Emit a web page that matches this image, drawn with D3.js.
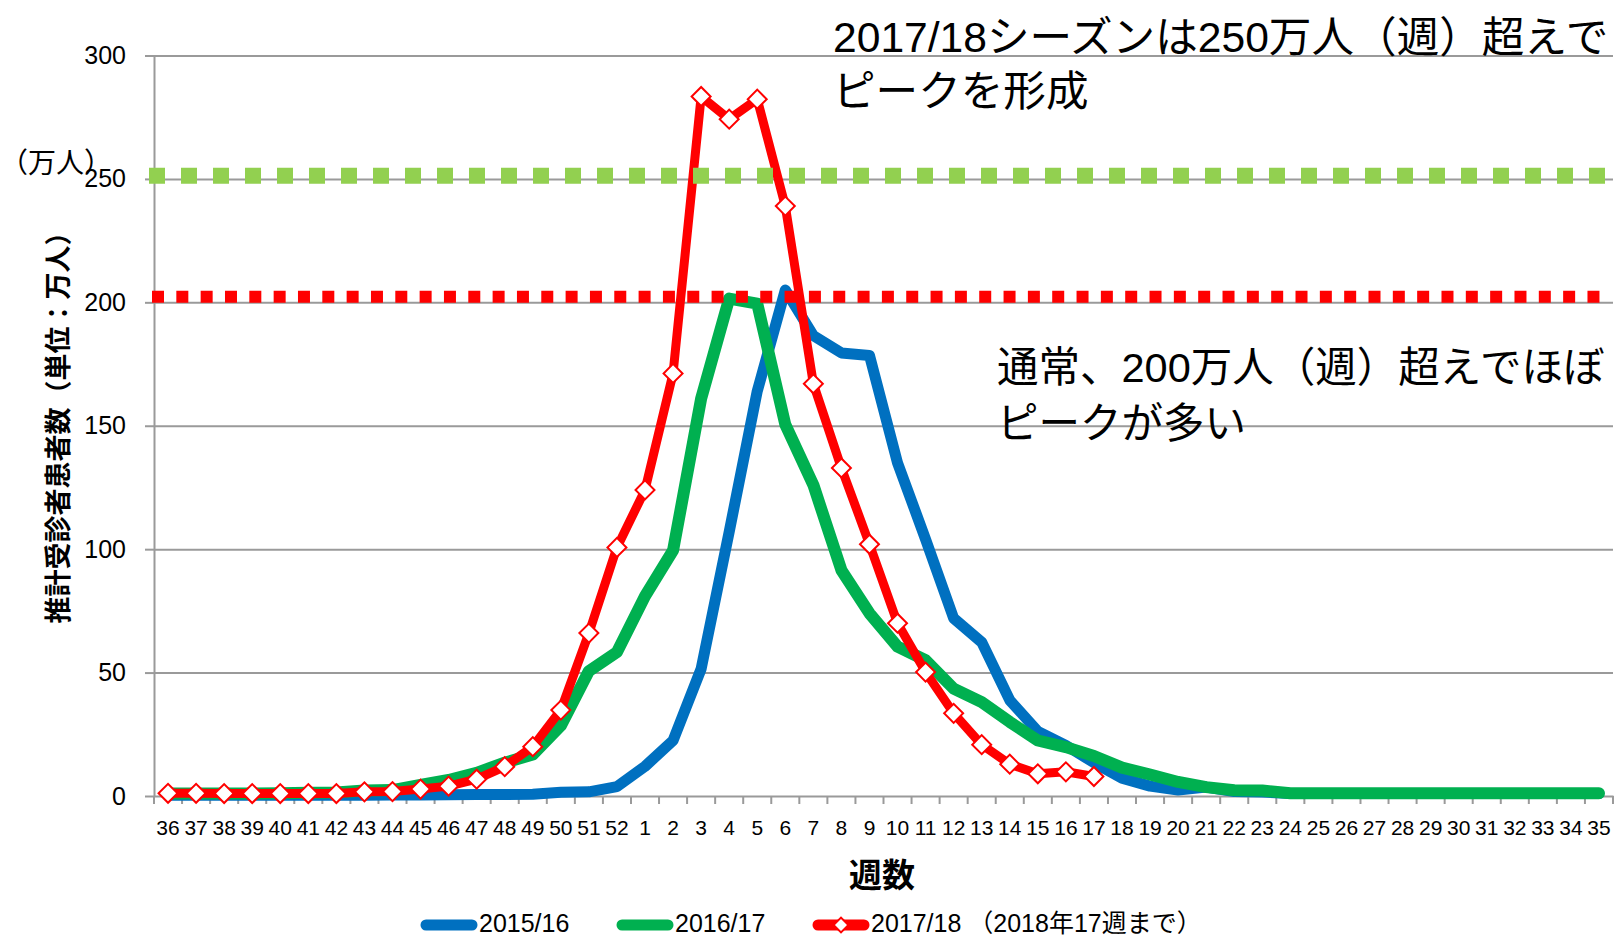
<!DOCTYPE html>
<html>
<head>
<meta charset="utf-8">
<script src="https://cdn.jsdelivr.net/npm/d3@7"></script>
<style>
  html, body { margin: 0; padding: 0; background: #fff; }
  svg { display: block; }
</style>
</head>
<body>
<svg id="chart" width="1623" height="938"></svg>
<script>
// Week numbers of the influenza season (week 36 through week 35 of the next year)
const weeks = ["36","37","38","39","40","41","42","43","44","45","46","47","48","49","50","51","52",
  "1","2","3","4","5","6","7","8","9","10","11","12","13","14","15","16","17","18","19","20",
  "21","22","23","24","25","26","27","28","29","30","31","32","33","34","35"];

// Estimated weekly patients (unit: 10,000 people)
const season1516 = [0.3,0.3,0.3,0.3,0.3,0.3,0.3,0.3,0.4,0.4,0.5,0.6,0.6,0.7,1.5,1.7,3.8,
  12,22.5,51.5,107,164,205,186.5,179.5,178.5,135,104,72,62.3,38.8,26.2,20.5,13.5,7.2,4,2.4,
  3.6,1.8,1.6,1.0,1.0,1.0,1.0,1.0,1.0,1.0,1.0,1.0,1.0,1.0,1.0];
const season1617 = [1.0,1.0,1.0,1.0,1.1,1.3,1.4,2.2,2.4,4.5,6.5,9.4,13.5,16.8,28.5,50.6,58.3,
  81,99.5,161,201.5,199.5,150.5,126,91.5,74,60.5,55,43.5,38,30,22.5,19.8,16.2,11.5,8.7,5.7,
  3.6,2.3,2.2,1.1,1.1,1.1,1.1,1.1,1.1,1.1,1.1,1.1,1.1,1.1,1.1];
// 2017/18 season, reported through week 17 of 2018
const season1718 = [1.1,1.1,1.0,1.0,1.0,1.0,1.0,1.7,1.8,2.8,4.0,6.8,11.9,20,34.8,66,100.7,
  124,171.2,283.4,274.2,282.3,239,167,132.9,102,70,50.2,33.5,20.8,12.9,9.0,9.8,7.9];

const seriesNames = ["2015/16", "2016/17", "2017/18 （2018年17週まで）"];
const yTicks = [0, 50, 100, 150, 200, 250, 300];
// Reference levels: peak season threshold and usual-peak threshold
const referenceLevels = [251.3, 202.3];

const LATIN = "'Liberation Sans', 'Noto Sans CJK JP', sans-serif";
const JP = "'Noto Sans CJK JP', 'Liberation Sans', sans-serif";

const svg = d3.select("#chart");
const plotLeft = 154, plotRight = 1613, plotBottom = 796, plotTop = 55.5;

const x = d3.scaleBand().domain(weeks).range([plotLeft, plotRight]).padding(0);
const y = d3.scaleLinear().domain([0, 300]).range([plotBottom, plotTop]);
const cx = w => x(w) + x.bandwidth() / 2;

const axisColor = "#9a9a9a";

// Horizontal gridlines
const grid = svg.append("g").attr("transform", `translate(${plotLeft},0)`)
  .call(d3.axisLeft(y).tickValues(yTicks.filter(v => v > 0)).tickSize(-(plotRight - plotLeft)).tickFormat(""));
grid.select(".domain").remove();
grid.selectAll("line").attr("stroke", axisColor).attr("stroke-width", 2);

// Y axis with labels
const yAxis = svg.append("g").attr("transform", `translate(${plotLeft},0)`)
  .call(d3.axisLeft(y).tickValues(yTicks).tickSize(9).tickSizeOuter(0).tickPadding(19));
yAxis.select(".domain").attr("stroke", axisColor).attr("stroke-width", 2);
yAxis.selectAll(".tick line").attr("stroke", axisColor).attr("stroke-width", 2);
yAxis.selectAll("text").attr("font-family", LATIN).attr("font-size", 25).attr("fill", "#000");

// X axis with week labels centred in each category
const xAxis = svg.append("g").attr("transform", `translate(0,${plotBottom})`)
  .call(d3.axisBottom(x).tickSize(0).tickSizeOuter(0).tickPadding(24));
xAxis.select(".domain").attr("stroke", axisColor).attr("stroke-width", 2);
xAxis.selectAll("text").attr("font-family", LATIN).attr("font-size", 21).attr("fill", "#000");

// Tick marks on category boundaries
const boundaries = d3.range(weeks.length + 1).map(i => plotLeft + i * x.step());
svg.append("g").selectAll("line").data(boundaries).join("line")
  .attr("x1", d => d).attr("x2", d => d)
  .attr("y1", plotBottom).attr("y2", plotBottom + 8)
  .attr("stroke", axisColor).attr("stroke-width", 2);

// Season lines
const seriesStyles = [
  { color: "#0070C0", width: 11, marker: false },
  { color: "#00B050", width: 12, marker: false },
  { color: "#FF0000", width: 9, marker: true }
];
const seriesValues = [season1516, season1617, season1718];

const line = d3.line()
  .x(d => cx(d.week))
  .y(d => y(d.value));

const diamond = d3.symbol().type(d3.symbolSquare).size(180);

seriesValues.forEach((vals, i) => {
  const st = seriesStyles[i];
  const pts = vals.map((v, j) => ({ week: weeks[j], value: v }));
  svg.append("path").datum(pts)
    .attr("d", line)
    .attr("fill", "none")
    .attr("stroke", st.color)
    .attr("stroke-width", st.width)
    .attr("stroke-linejoin", "round")
    .attr("stroke-linecap", "round");
  if (st.marker) {
    svg.append("g").selectAll("path").data(pts).join("path")
      .attr("d", diamond)
      .attr("transform", d => `translate(${cx(d.week)},${y(d.value)}) rotate(45)`)
      .attr("fill", "#fff")
      .attr("stroke", st.color)
      .attr("stroke-width", 2);
  }
});

// Dotted reference levels
const levelStyles = [
  { color: "#92D050", width: 16, dash: "16 16", x1: 149, x2: 1612 },
  { color: "#FF0000", width: 12, dash: "12 12.33", x1: 152, x2: 1605 }
];
referenceLevels.forEach((lv, i) => {
  const st = levelStyles[i];
  svg.append("line")
    .attr("x1", st.x1).attr("x2", st.x2)
    .attr("y1", y(lv)).attr("y2", y(lv))
    .attr("stroke", st.color)
    .attr("stroke-width", st.width)
    .attr("stroke-dasharray", st.dash);
});

// Unit label and axis titles
svg.append("text")
  .attr("x", 0).attr("y", 173)
  .attr("font-family", JP).attr("font-size", 28)
  .text("（万人）");

svg.append("text")
  .attr("transform", "translate(56,421) rotate(-90)")
  .attr("text-anchor", "middle")
  .attr("dominant-baseline", "central")
  .attr("font-family", JP).attr("font-size", 27).attr("font-weight", "bold")
  .text("推計受診者患者数（単位：万人）");

svg.append("text")
  .attr("x", 882).attr("y", 887)
  .attr("text-anchor", "middle")
  .attr("font-family", JP).attr("font-size", 33).attr("font-weight", "bold")
  .text("週数");

// Annotations: the font size is reduced when the first line would run past the right edge
const notes = [
  { x: 833, ys: [52, 106], maxWidth: 776, lines: ["2017/18シーズンは250万人（週）超えで", "ピークを形成"] },
  { x: 997, ys: [382, 438], maxWidth: 608, lines: ["通常、200万人（週）超えでほぼ", "ピークが多い"] }
];
notes.forEach(n => {
  const texts = n.lines.map((t, k) => svg.append("text")
    .attr("x", n.x).attr("y", n.ys[k])
    .attr("font-family", LATIN).attr("font-size", 43)
    .attr("fill", "#000")
    .text(t));
  const len = texts[0].node().getComputedTextLength();
  if (len > n.maxWidth) {
    const fs = Math.floor(43 * n.maxWidth / len * 10) / 10;
    texts.forEach(tx => tx.attr("font-size", fs));
  }
});

// Legend
const legendX = [421, 617, 813];
const legendY = 925;
seriesNames.forEach((name, i) => {
  const st = seriesStyles[i];
  const lx = legendX[i];
  svg.append("line")
    .attr("x1", lx + 5).attr("x2", lx + 51)
    .attr("y1", legendY).attr("y2", legendY)
    .attr("stroke", st.color).attr("stroke-width", 11)
    .attr("stroke-linecap", "round");
  if (st.marker) {
    svg.append("path")
      .attr("d", d3.symbol().type(d3.symbolSquare).size(110))
      .attr("transform", `translate(${lx + 28},${legendY}) rotate(45)`)
      .attr("fill", "#fff").attr("stroke", st.color).attr("stroke-width", 2);
  }
  svg.append("text")
    .attr("x", lx + 58).attr("y", 932)
    .attr("font-family", LATIN).attr("font-size", 25)
    .attr("fill", "#000")
    .text(name);
});
</script>
</body>
</html>
